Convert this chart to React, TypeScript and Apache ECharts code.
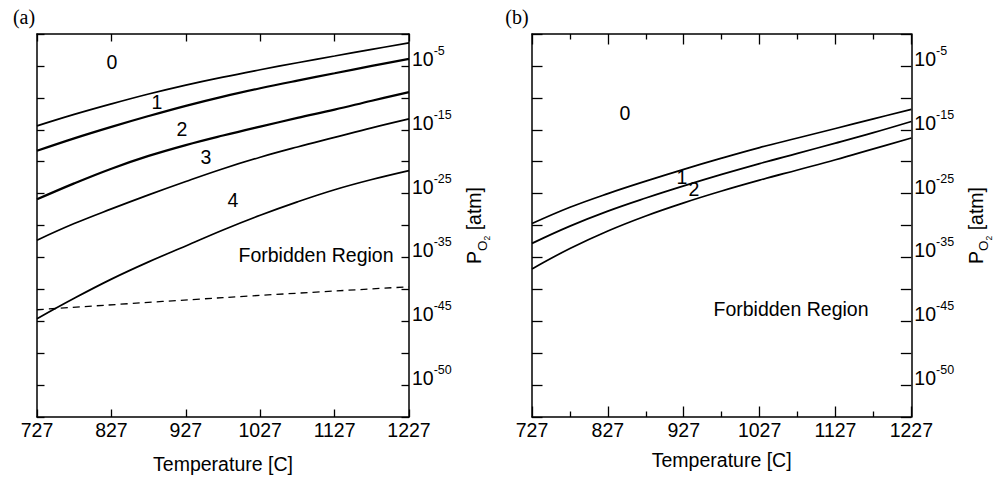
import React, { useEffect, useRef } from 'react';
import * as echarts from 'echarts';

// Temperatures (°C) at which the boundary curves were read
const temps = [727, 777, 827, 877, 927, 977, 1027, 1077, 1127, 1177, 1227];

// Panel (a): log10(P_O2) of the boundaries
const a01 = [-14.4, -12.6, -10.95, -9.4, -8.0, -6.75, -5.6, -4.5, -3.45, -2.4, -1.4];
const a12 = [-18.3, -16.35, -14.55, -12.85, -11.25, -9.8, -8.5, -7.3, -6.15, -5.0, -3.9];
const a23 = [-25.9, -23.4, -21.1, -19.1, -17.4, -15.9, -14.5, -13.15, -11.85, -10.45, -9.1];
const a34 = [-32.3, -29.7, -27.4, -25.2, -23.1, -21.1, -19.3, -17.7, -16.2, -14.7, -13.3];
const a4F = [-44.6, -41.4, -38.4, -35.7, -33.2, -30.7, -28.4, -26.3, -24.4, -22.8, -21.4];
const dashTemps = [727, 977, 1227];
const aDash = [-43.2, -41.3, -39.6];

// Panel (b)
const b01 = [-29.7, -27.15, -25.0, -23.05, -21.2, -19.45, -17.8, -16.3, -14.8, -13.3, -11.8];
const b12 = [-32.8, -30.1, -27.75, -25.7, -23.8, -22.0, -20.3, -18.7, -17.1, -15.45, -13.7];
const b2F = [-36.8, -33.6, -30.85, -28.5, -26.45, -24.6, -22.9, -21.3, -19.7, -18.0, -16.3];

// Axis ticks
const tBase = 727;
const tMaxOffset = 500;
const tStep = 100;
const yMin = -60;
const yMax = 0;
const yStep = 5;
const yTickValues = [-5, -15, -25, -35, -45, -55];
const yTickLabels = ['-5', '-15', '-25', '-35', '-45', '-50'];

const FONT = '"Liberation Sans", Arial, Helvetica, sans-serif';
const SERIF = '"Liberation Serif", "Times New Roman", serif';
const FS = 19.5;

function toData(xs: number[], ys: number[]) {
  return xs.map((t, i) => [t - tBase, ys[i]]);
}

function yLabel(v: number) {
  const idx = yTickValues.indexOf(Math.round(v));
  if (idx < 0) return '';
  return '{b|10}{s|' + yTickLabels[idx] + '}';
}

const lineColor = '#000';

function xAxesFor(grid: number, tickLen: number, minor: boolean, nameGap: number) {
  const base: any = {
    type: 'value',
    gridIndex: grid,
    min: 0,
    max: tMaxOffset,
    interval: tStep,
    axisLine: { show: true, onZero: false, lineStyle: { color: lineColor, width: 1.5 } },
    axisTick: { show: true, inside: true, length: tickLen, lineStyle: { color: lineColor, width: 1.3 } },
    minorTick: { show: minor, splitNumber: 2, length: 5.5, lineStyle: { color: lineColor, width: 1.3 } },
    splitLine: { show: false },
    minorSplitLine: { show: false },
  };
  return [
    {
      ...base,
      position: 'bottom',
      axisLabel: {
        show: true,
        margin: 3,
        color: '#000',
        fontSize: FS,
        fontFamily: FONT,
        lineHeight: 20,
        formatter: (v: number) => String(v + tBase),
      },
      name: 'Temperature [C]',
      nameLocation: 'middle',
      nameGap,
      nameTextStyle: { color: '#000', fontSize: FS, fontFamily: FONT, lineHeight: 20 },
    },
    { ...base, position: 'top', axisLabel: { show: false } },
  ];
}

function yAxesFor(grid: number, tickLen: number, nameGap: number) {
  const base: any = {
    type: 'value',
    gridIndex: grid,
    min: yMin,
    max: yMax,
    interval: yStep,
    axisLine: { show: true, onZero: false, lineStyle: { color: lineColor, width: 1.5 } },
    axisTick: { show: true, inside: true, length: tickLen, lineStyle: { color: lineColor, width: 1.3 } },
    splitLine: { show: false },
  };
  return [
    {
      ...base,
      position: 'right',
      axisLabel: {
        show: true,
        margin: 3,
        color: '#000',
        formatter: yLabel,
        hideOverlap: false,
        rich: {
          b: { fontSize: FS, fontFamily: FONT, lineHeight: 20, color: '#000', padding: [0, 0, 14, 0] },
          s: { fontSize: 12.5, fontFamily: FONT, lineHeight: 20, color: '#000', padding: [0, 0, 30, 0] },
        },
      },
      name: '{p|P}{o|O}{t|2}{p| [atm]}',
      nameLocation: 'middle',
      nameGap,
      nameTextStyle: {
        color: '#000',
        fontSize: FS,
        fontFamily: FONT,
        lineHeight: 20,
        rich: {
          p: { fontSize: FS, fontFamily: FONT, lineHeight: 20, color: '#000' },
          o: { fontSize: 13.5, fontFamily: FONT, lineHeight: 20, color: '#000', padding: [16, 0, 0, 0] },
          t: { fontSize: 8.5, fontFamily: FONT, lineHeight: 20, color: '#000', padding: [26, 0, 0, 0] },
        },
      },
    },
    { ...base, position: 'left', axisLabel: { show: false } },
  ];
}

function curve(xIdx: number, yIdx: number, xs: number[], ys: number[], width = 1.7, dashed = false) {
  return {
    type: 'line',
    xAxisIndex: xIdx,
    yAxisIndex: yIdx,
    data: toData(xs, ys),
    showSymbol: false,
    smooth: 0.4,
    silent: true,
    lineStyle: { color: lineColor, width, type: dashed ? [7, 5] : 'solid' },
  };
}

function txt(x: number, y: number, text: string, font = FONT, size = FS) {
  return {
    type: 'text',
    x,
    y,
    silent: true,
    style: {
      text,
      fill: '#000',
      fontSize: size,
      fontFamily: font,
      align: 'center',
      verticalAlign: 'middle',
    },
  };
}

export default function App() {
  const ref = useRef<HTMLDivElement>(null);
  useEffect(() => {
    if (!ref.current) return;
    const chart = echarts.init(ref.current, null, { renderer: 'svg' });
    const option: any = {
      animation: false,
      backgroundColor: '#fff',
      grid: [
        { left: 37, top: 34, width: 372, height: 383 },
        { left: 532, top: 34, width: 382, height: 383 },
      ],
      xAxis: [...xAxesFor(0, 7.5, false, 37), ...xAxesFor(1, 10.5, true, 33)],
      yAxis: [...yAxesFor(0, 7.5, 55), ...yAxesFor(1, 10.5, 47)],
      series: [
        curve(0, 0, temps, a01),
        curve(0, 0, temps, a12, 2.2),
        curve(0, 0, temps, a23, 2.2),
        curve(0, 0, temps, a34),
        curve(0, 0, temps, a4F),
        curve(0, 0, dashTemps, aDash, 1.3, true),
        curve(2, 2, temps, b01),
        curve(2, 2, temps, b12),
        curve(2, 2, temps, b2F),
      ],
      graphic: [
        txt(24, 17, '(a)', SERIF, 20),
        txt(517, 17, '(b)', SERIF, 20),
        txt(112, 62, '0'),
        txt(157, 102, '1'),
        txt(182, 129, '2'),
        txt(206, 157, '3'),
        txt(233, 200, '4'),
        txt(316, 255, 'Forbidden Region'),
        txt(625, 113, '0'),
        txt(682, 177, '1'),
        txt(694, 189, '2'),
        txt(791, 309, 'Forbidden Region'),
      ],
    };
    chart.setOption(option);
    return () => chart.dispose();
  }, []);
  return (
    <div
      ref={ref}
      style={{ position: 'absolute', left: 0, top: 0, width: 994, height: 483, background: '#fff' }}
    />
  );
}
